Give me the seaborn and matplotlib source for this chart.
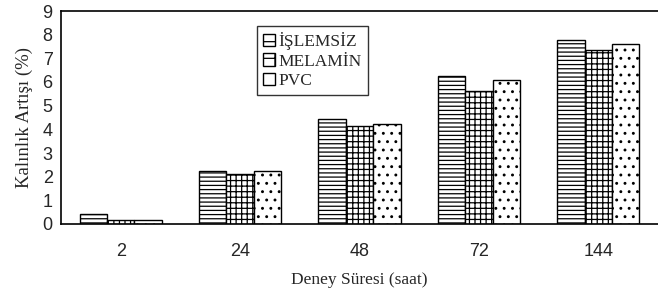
import matplotlib
matplotlib.use("Agg")
import matplotlib.pyplot as plt
import matplotlib.patches as mpatches
import pandas as pd
import seaborn as sns

# data
sureler = ["2", "24", "48", "72", "144"]
islemsiz = [0.42, 2.22, 4.44, 6.24, 7.76]
melamin = [0.17, 2.10, 4.14, 5.63, 7.34]
pvc = [0.17, 2.22, 4.21, 6.08, 7.60]
seriler = ["İŞLEMSİZ", "MELAMİN", "PVC"]
taramalar = ["----", "+++", ".."]

df = pd.DataFrame({
    "sure": sureler * 3,
    "deger": islemsiz + melamin + pvc,
    "seri": [s for s in seriler for _ in sureler],
})

sns.set_style("white")
plt.rcParams["hatch.linewidth"] = 0.9

fig = plt.figure(figsize=(6.58, 2.98), dpi=100)
ax = fig.add_axes([61 / 658, 1 - 224 / 298, 597 / 658, 213 / 298])

sns.barplot(data=df, x="sure", y="deger", hue="seri", order=sureler,
            hue_order=seriler, width=0.69, color="white", saturation=1,
            edgecolor="black", linewidth=1, legend=False, ax=ax)

# hatch each series
for cont, h in zip(ax.containers, taramalar):
    for bar in cont:
        bar.set_hatch(h)
        bar.set_facecolor("white")
        bar.set_edgecolor("black")

ax.set_ylim(0, 9)
ax.set_xlim(-0.5, 4.5)
ax.set_yticks(range(10))
ax.set_xticks([-0.5, 0.5, 1.5, 2.5, 3.5])
ax.set_xticklabels([])
ax.set_xticks(range(5), minor=True)
ax.set_xticklabels(sureler, minor=True)
ax.tick_params(axis="x", which="minor", length=0, pad=14, labelsize=13)
ax.tick_params(axis="x", which="major", direction="in", length=4, width=1, colors="black")
ax.tick_params(axis="y", direction="out", length=4, width=1, labelsize=13, pad=2)
for lab in ax.get_yticklabels() + ax.get_xticklabels(minor=True):
    lab.set_fontfamily("Liberation Sans")

for s in ["left", "bottom", "top"]:
    ax.spines[s].set_visible(True)
    ax.spines[s].set_color("black")
    ax.spines[s].set_linewidth(1.2)
ax.spines["right"].set_visible(False)

ax.set_xlabel("Deney Süresi (saat)", fontfamily="Liberation Serif", fontsize=12.5, labelpad=8)
ax.set_ylabel("Kalınlık Artışı (%)", fontfamily="Liberation Serif", fontsize=13.5, labelpad=7)

handles = [mpatches.Patch(facecolor="white", edgecolor="black", hatch=h, label=s)
           for s, h in zip(seriler, ["-", "+", ""])]
leg = ax.legend(handles=handles, loc="upper left", bbox_to_anchor=(0.328, 0.93),
                prop={"family": "Liberation Serif", "size": 12.5}, frameon=True,
                fancybox=False, edgecolor="black", handlelength=0.7, handleheight=0.7,
                handletextpad=0.2, labelspacing=0.2, borderpad=0.35, borderaxespad=0)
leg.get_frame().set_linewidth(1)

fig.savefig("out.png", dpi=100)
